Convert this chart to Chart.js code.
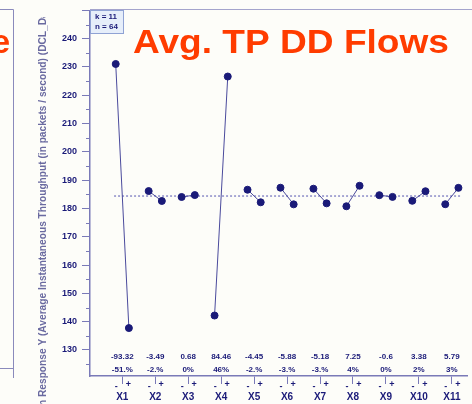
<!DOCTYPE html>
<html lang="en">
<head>
    <meta charset="UTF-8">
    <title>Avg. TP DD Flows</title>
    <script src="https://cdn.jsdelivr.net/npm/chart.js"></script>
    <style>
        body { margin: 0; background: #fdfdf9; }
    </style>
</head>
<body>
    <canvas id="chart" width="472" height="404"></canvas>

    <script>
        // factor names and the mean response at the low (-) and high (+) level
        const categories = ['X1', 'X2', 'X3', 'X4', 'X5', 'X6', 'X7', 'X8', 'X9', 'X10', 'X11'];
        const lowLevel  = [231.06, 186.15, 184.06, 142.17, 186.63, 187.34, 186.99, 180.78, 184.70, 182.71, 181.50];
        const highLevel = [137.74, 182.66, 184.74, 226.63, 182.18, 181.46, 181.81, 188.03, 184.10, 186.09, 187.29];
        const effects  = ['-93.32', '-3.49', '0.68', '84.46', '-4.45', '-5.88', '-5.18', '7.25', '-0.6', '3.38', '5.79'];
        const percents = ['-51.%', '-2.%', '0%', '46%', '-2.%', '-3.%', '-3.%', '4%', '0%', '2%', '3%'];
        const grandMean = 184.4;
        const yTicks = [125, 130, 135, 140, 145, 150, 155, 160, 165, 170, 175, 180, 185, 190, 195, 200, 205, 210, 215, 220, 225, 230, 235, 240, 245, 250];

        const navy = '#1a1a78';
        const axisColor = '#7a7ab8';
        const fontFam = '"Liberation Sans", Arial, sans-serif';

        // one line dataset, pairs split by null gaps
        const pairPoints = [];
        categories.forEach((c, i) => {
            pairPoints.push({ x: i - 0.2, y: lowLevel[i] });
            pairPoints.push({ x: i + 0.2, y: highLevel[i] });
            pairPoints.push({ x: i + 0.5, y: null });
        });

        const extras = {
            id: 'extras',
            afterDraw(chart) {
                const ctx = chart.ctx;
                const xs = chart.scales.x;
                const ys = chart.scales.y;
                const area = chart.chartArea;
                ctx.save();

                // top border of the plot
                ctx.strokeStyle = '#a4a4cc';
                ctx.lineWidth = 1;
                ctx.beginPath();
                ctx.moveTo(area.left, 9.5);
                ctx.lineTo(472, 9.5);
                ctx.stroke();

                // minor y ticks
                ctx.strokeStyle = axisColor;
                yTicks.forEach(v => {
                    if (v % 10 !== 0) {
                        const py = Math.round(ys.getPixelForValue(v)) + 0.5;
                        ctx.beginPath();
                        ctx.moveTo(area.left - 4, py);
                        ctx.lineTo(area.left, py);
                        ctx.stroke();
                    }
                });

                // neighbouring chart frame on the left edge
                ctx.strokeStyle = '#8a8abc';
                ctx.beginPath();
                ctx.moveTo(0, 9.5);
                ctx.lineTo(13.5, 9.5);
                ctx.lineTo(13.5, 378);
                ctx.moveTo(0, 368.5);
                ctx.lineTo(13.5, 368.5);
                ctx.stroke();

                // orange titles
                ctx.fillStyle = '#ff3c00';
                ctx.font = 'bold 33px ' + fontFam;
                ctx.textBaseline = 'alphabetic';
                ctx.textAlign = 'right';
                ctx.fillText('e', 10, 53);
                const title = 'Avg. TP DD Flows';
                const tw = ctx.measureText(title).width;
                ctx.save();
                ctx.translate(133, 53);
                ctx.scale(316 / tw, 1);
                ctx.textAlign = 'left';
                ctx.fillText(title, 0, 0);
                ctx.restore();

                // k / n box
                ctx.fillStyle = '#e6eefa';
                ctx.fillRect(90.5, 10.5, 33, 23);
                ctx.strokeStyle = '#8fa2d4';
                ctx.strokeRect(90.5, 10.5, 33, 23);
                ctx.fillStyle = navy;
                ctx.font = 'bold 8px ' + fontFam;
                ctx.textAlign = 'left';
                ctx.textBaseline = 'middle';
                ctx.fillText('k = 11', 95, 17);
                ctx.fillText('n = 64', 95, 27);

                // y axis title, cut off at both ends like the source image
                ctx.save();
                ctx.beginPath();
                ctx.rect(30, 17, 30, 387);
                ctx.clip();
                ctx.translate(43, 397);
                ctx.rotate(-Math.PI / 2);
                ctx.fillStyle = '#6a6aa0';
                ctx.font = 'bold 10px ' + fontFam;
                const shown = 'Response Y (Average Instantaneous Throughput (in packets / second) (DCL_D';
                const k = 379 / ctx.measureText(shown).width;
                ctx.scale(k, 1);
                ctx.textAlign = 'left';
                ctx.textBaseline = 'middle';
                const lead = ctx.measureText('Mean ').width;
                ctx.fillText('Mean Response Y (Average Instantaneous Throughput (in packets / second) (DCL_Data)', -lead, 0);
                ctx.restore();

                // effect and percent labels, - / + marks
                ctx.fillStyle = navy;
                ctx.textAlign = 'center';
                ctx.textBaseline = 'middle';
                categories.forEach((c, i) => {
                    const cx = xs.getPixelForValue(i);
                    ctx.font = 'bold 8px ' + fontFam;
                    ctx.fillText(effects[i], cx, 357);
                    ctx.fillText(percents[i], cx, 370);
                    ctx.font = 'bold 9px ' + fontFam;
                    ctx.fillText('-', cx - 6, 387);
                    ctx.fillText('+', cx + 6, 385);
                });

                ctx.restore();
            }
        };

        const chart = new Chart(document.getElementById('chart'), {
            type: 'line',
            data: {
                datasets: [{
                    data: pairPoints,
                    borderColor: '#4a4a9c',
                    borderWidth: 1,
                    pointRadius: 3.5,
                    pointBackgroundColor: navy,
                    pointBorderColor: navy,
                    spanGaps: false,
                    order: 1
                }, {
                    data: [{ x: -0.25, y: grandMean }, { x: 10.28, y: grandMean }],
                    borderColor: '#8c8cc8',
                    borderWidth: 1.5,
                    borderDash: [2, 2],
                    pointRadius: 0,
                    order: 2
                }]
            },
            options: {
                responsive: false,
                animation: false,
                layout: { padding: { top: 10, left: 0, right: 0, bottom: 0 } },
                plugins: {
                    legend: { display: false },
                    tooltip: { enabled: false }
                },
                scales: {
                    x: {
                        type: 'linear',
                        min: -0.98,
                        max: 10.46,
                        afterBuildTicks: (scale) => {
                            scale.ticks = categories.map((c, i) => ({ value: i }));
                        },
                        afterFit: (scale) => { scale.height = 28; },
                        ticks: {
                            autoSkip: false,
                            maxRotation: 0,
                            padding: 7,
                            color: navy,
                            font: { family: fontFam, size: 10, weight: 'bold' },
                            callback: (v) => categories[v]
                        },
                        grid: { drawOnChartArea: false, tickLength: 8, color: axisColor },
                        border: { color: axisColor, width: 1.5 }
                    },
                    y: {
                        min: 120.8,
                        max: 250,
                        afterBuildTicks: (scale) => {
                            scale.ticks = yTicks.map(v => ({ value: v }));
                        },
                        afterFit: (scale) => { scale.width = 90; },
                        ticks: {
                            autoSkip: false,
                            padding: 5,
                            color: navy,
                            font: { family: fontFam, size: 9, weight: 'bold' },
                            callback: (v) => (v % 10 === 0 && v >= 130 && v <= 240) ? v : ''
                        },
                        grid: {
                            drawOnChartArea: false,
                            tickLength: 8,
                            tickColor: (c) => (c.tick && c.tick.value % 10 === 0) ? axisColor : 'transparent'
                        },
                        border: { color: axisColor, width: 1.5 }
                    }
                }
            },
            plugins: [extras]
        });
    </script>
</body>
</html>
